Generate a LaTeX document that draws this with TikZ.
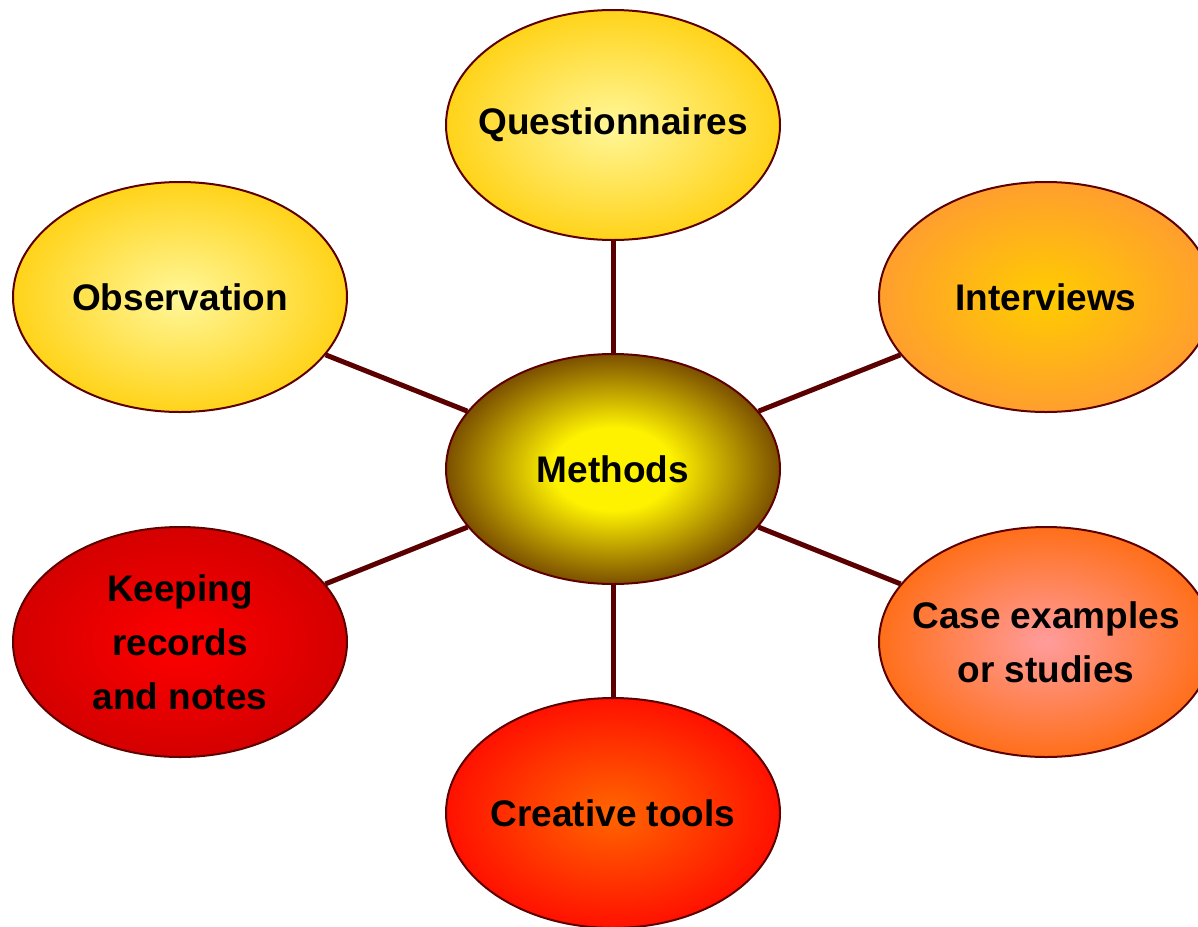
\documentclass[tikz,border=0pt]{standalone}
\usepackage{fontspec}
\setmainfont{Liberation Sans}
\usetikzlibrary{shapes.geometric}
\definecolor{edgec}{HTML}{5E0000}
\definecolor{connc}{HTML}{5A0000}
\definecolor{qin}{HTML}{FFF79A}
\definecolor{qout}{HTML}{FFCC00}
\definecolor{iin}{HTML}{FFCC00}
\definecolor{iout}{HTML}{FF9933}
\definecolor{min}{HTML}{FFF200}
\definecolor{mout}{HTML}{4A1200}
\definecolor{kin}{HTML}{FF0000}
\definecolor{kout}{HTML}{C80000}
\definecolor{cin}{HTML}{FF9C9C}
\definecolor{cout}{HTML}{FF6600}
\definecolor{tin}{HTML}{FF6600}
\definecolor{tout}{HTML}{FF0000}
\pgfdeclareradialshading{qshade}{\pgfpoint{0bp}{0bp}}{color(0bp)=(qin); color(30bp)=(qout); color(50bp)=(qout)}
\pgfdeclareradialshading{ishade}{\pgfpoint{0bp}{0bp}}{color(0bp)=(iin); color(28bp)=(iout); color(50bp)=(iout)}
\pgfdeclareradialshading{mshade}{\pgfpoint{0bp}{0bp}}{color(0bp)=(min); color(9bp)=(min); color(31bp)=(mout); color(50bp)=(mout)}
\pgfdeclareradialshading{kshade}{\pgfpoint{0bp}{0bp}}{color(0bp)=(kin); color(32bp)=(kout); color(50bp)=(kout)}
\pgfdeclareradialshading{cshade}{\pgfpoint{0bp}{0bp}}{color(0bp)=(cin); color(30bp)=(cout); color(50bp)=(cout)}
\pgfdeclareradialshading{tshade}{\pgfpoint{0bp}{0bp}}{color(0bp)=(tin); color(30bp)=(tout); color(50bp)=(tout)}
\tikzset{
  bubble/.style={ellipse, draw=edgec, line width=2pt, minimum width=334pt, minimum height=230pt,
    inner xsep=-30pt, inner ysep=-20pt, align=center, font=\fontsize{37}{54}\selectfont\bfseries, text=black},
  conn/.style={draw=connc, line width=5pt}
}
\begin{document}
\begin{tikzpicture}[x=1pt,y=-1pt]
\useasboundingbox (0,0) rectangle (1198,926);
\node[bubble, shading=qshade] (q) at (613,125) {Questionnaires};
\node[bubble, shading=qshade] (o) at (180,297) {Observation};
\node[bubble, shading=ishade] (i) at (1046,297) {Interviews};
\node[bubble, shading=mshade] (m) at (613,469) {Methods};
\node[bubble, shading=kshade] (k) at (180,642) {Keeping\\records\\and notes};
\node[bubble, shading=cshade] (c) at (1046,642) {Case examples\\or studies};
\node[bubble, shading=tshade] (t) at (613,813) {Creative tools};
\draw[conn] (m) -- (q);
\draw[conn] (m) -- (o);
\draw[conn] (m) -- (i);
\draw[conn] (m) -- (k);
\draw[conn] (m) -- (c);
\draw[conn] (m) -- (t);
\end{tikzpicture}
\end{document}
